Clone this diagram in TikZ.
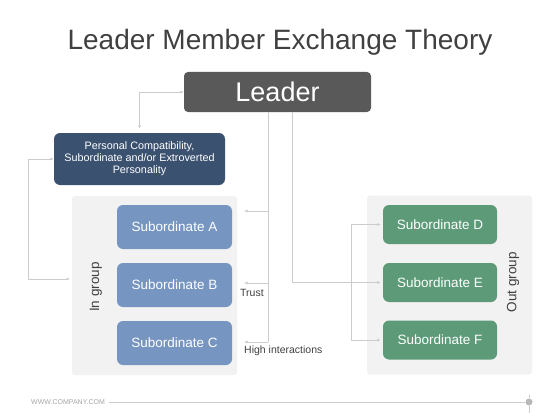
\documentclass[tikz,border=0pt]{standalone}
\usepackage{fontspec}
\setmainfont{Liberation Sans}
\usetikzlibrary{arrows.meta, calc, positioning}
\definecolor{leaderGray}{HTML}{595959}
\definecolor{persNavy}{HTML}{3A5170}
\definecolor{inBlue}{HTML}{7695C0}
\definecolor{outGreen}{HTML}{5C9A78}
\definecolor{panelGray}{HTML}{F2F2F2}
\definecolor{wireGray}{HTML}{CCCCCC}
\definecolor{textGray}{HTML}{404040}
\definecolor{footGray}{HTML}{A6A6A6}
\tikzset{
    leaderBox/.style={rectangle, rounded corners=4pt, fill=leaderGray, text=white, minimum width=187pt, minimum height=40pt, font=\fontsize{27}{30}\selectfont},
    persBox/.style={rectangle, rounded corners=6pt, fill=persNavy, text=white, minimum width=171pt, minimum height=52pt, inner sep=0pt, align=center, font=\fontsize{10.8}{12}\selectfont},
    subIn/.style={rectangle, rounded corners=6pt, fill=inBlue, text=white, minimum width=115pt, minimum height=44pt, font=\fontsize{13.5}{16}\selectfont},
    subOut/.style={subIn, fill=outGreen, minimum width=114pt, minimum height=39pt},
    groupPanel/.style={rectangle, rounded corners=3pt, fill=panelGray, minimum width=165pt, minimum height=179pt},
    groupLabel/.style={rotate=90, text=textGray, font=\fontsize{13.5}{16}\selectfont},
    wire/.style={draw=wireGray, line width=0.6pt},
    wireArrow/.style={wire, -{Latex[length=3.5pt, width=3pt]}},
    wireBoth/.style={wire, {Latex[length=3.5pt, width=3pt]}-{Latex[length=3.5pt, width=3pt]}},
    note/.style={text=textGray, anchor=west, inner sep=0pt, font=\fontsize{10.5}{12}\selectfont},
    footLine/.style={draw=wireGray, line width=0.6pt},
}
\newcommand{\drawFeed}[2]{
    \draw[wireArrow] (#1) -- (#2);
}

\begin{document}
\begin{tikzpicture}[x=1pt, y=-1pt]
    \useasboundingbox (0,0) rectangle (560,420);

    \node[text=textGray, anchor=base, font=\fontsize{28}{32}\selectfont] (title) at (280,50) {Leader Member Exchange Theory};

    \node[leaderBox] (leader) at (277.5,92) {Leader};
    \node[persBox] (pers) at (139.5,159) {Personal Compatibility,\\Subordinate and/or Extroverted\\Personality};

    % group panels
    \node[groupPanel] (inPanel) at (154.5,285.5) {};
    \node[groupPanel] (outPanel) at (449.5,285) {};
    \node[groupLabel] (inLabel) at (96,287) {In group};
    \node[groupLabel] (outLabel) at (513,282) {Out group};

    \node[subIn] (subA) at (174.5,227) {Subordinate A};
    \node[subIn] (subB) at (174.5,285) {Subordinate B};
    \node[subIn] (subC) at (174.5,343) {Subordinate C};
    \node[subOut] (subD) at (440,224.5) {Subordinate D};
    \node[subOut] (subE) at (440,282.5) {Subordinate E};
    \node[subOut] (subF) at (440,340) {Subordinate F};

    % leader and personal loop
    \draw[wireBoth, shorten <=4pt] (pers.north) |- (leader.west);
    \coordinate (inTip) at (70,279);
    \draw[wireBoth] (pers.west) -- ++(-26,0) |- (inTip);

    % in group trunk
    \coordinate (trunkIn) at ([xshift=-9.5pt]leader.south);
    \coordinate (tipA) at (244,211);
    \coordinate (tipB) at (244,283);
    \coordinate (tipC) at (244,342);
    \draw[wire] (trunkIn) -- (trunkIn |- tipC);
    \foreach \t in {tipA, tipB, tipC} {
        \drawFeed{trunkIn |- \t}{\t}
    }
    \node[note] (trust) at (240,293) {Trust};
    \node[note] (high) at (244,351) {High interactions};

    % out group trunk
    \coordinate (trunkOut) at ([xshift=14.5pt]leader.south);
    \draw[wireArrow, shorten >=2pt] (trunkOut) |- (subE.west);
    \draw[wireArrow, shorten >=2pt] ([xshift=-32pt]subE.west) |- (subD.west);
    \draw[wireArrow, shorten >=2pt] ([xshift=-32pt]subE.west) |- (subF.west);

    % footer
    \node[text=footGray, anchor=west, inner sep=0pt, font=\fontsize{7}{8}\selectfont] (site) at (31,402) {WWW.COMPANY.COM};
    \node[circle, fill=footGray!80, minimum size=7pt, inner sep=0pt] (dot) at (529,402) {};
    \draw[footLine] ([xshift=4pt]site.east) -- (dot.west);
    \draw[footLine] (dot.north) -- ++(0,-3);
    \draw[footLine] (dot.south) -- ++(0,7);
\end{tikzpicture}
\end{document}
